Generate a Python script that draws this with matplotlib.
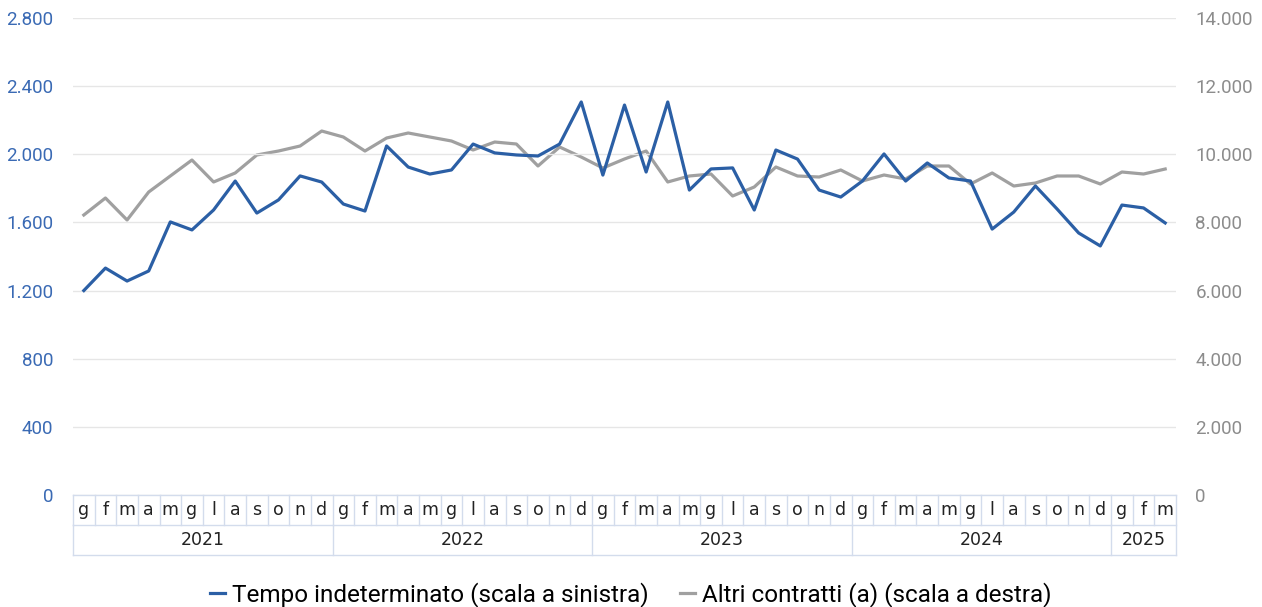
import numpy as np
import matplotlib.pyplot as plt
from matplotlib.ticker import FuncFormatter
import matplotlib.transforms as mtransforms

plt.rcParams['font.family'] = ['Roboto', 'DejaVu Sans']

# ---------------------------------------------------
# dati
mesi = ['g', 'f', 'm', 'a', 'm', 'g', 'l', 'a', 's', 'o', 'n', 'd']
anni = ['2021', '2022', '2023', '2024', '2025']
mesi_per_anno = [12, 12, 12, 12, 3]

tempo_indet = [1200, 1332, 1256, 1315, 1603, 1556, 1673, 1843, 1655, 1732, 1873, 1837,
               1708, 1667, 2049, 1925, 1884, 1908, 2060, 2008, 1996, 1990, 2060, 2307,
               1878, 2289, 1896, 2307, 1790, 1914, 1920, 1673, 2025, 1972, 1790, 1749,
               1843, 2002, 1843, 1949, 1861, 1843, 1561, 1661, 1814, 1679, 1538, 1462,
               1702, 1685, 1597]

altri_contratti = [8218, 8717, 8071, 8893, 9363, 9832, 9187, 9451, 9979, 10096, 10243, 10683,
                   10507, 10096, 10478, 10625, 10507, 10390, 10126, 10360, 10302, 9656, 10214, 9920,
                   9597, 9862, 10096, 9187, 9363, 9421, 8776, 9040, 9627, 9363, 9333, 9539,
                   9216, 9392, 9275, 9656, 9656, 9128, 9451, 9069, 9157, 9363, 9363, 9128,
                   9480, 9421, 9568]

blu = '#2B5FA5'
grigio = '#A0A0A0'
bordo = '#D3DCEC'

def fmt_it(v, pos):
    return f'{int(v):,}'.replace(',', '.')

# ---------------------------------------------------
fig = plt.figure(figsize=(12.62, 6.07), dpi=100)
ax = fig.add_axes([73/1262, 1 - 495/607, (1176 - 73)/1262, (495 - 18)/607])
ax2 = ax.twinx()

x = np.arange(len(tempo_indet))
l1, = ax.plot(x, tempo_indet, color=blu, lw=2.3, zorder=3, label='Tempo indeterminato (scala a sinistra)')
l2, = ax2.plot(x, altri_contratti, color=grigio, lw=2.3, zorder=2, label='Altri contratti (a) (scala a destra)')
ax.set_zorder(ax2.get_zorder() + 1)
ax.patch.set_visible(False)

ax.set_xlim(-0.5, len(x) - 0.5)
ax.set_ylim(0, 2800)
ax2.set_ylim(0, 14000)
ax.set_yticks(np.arange(0, 2801, 400))
ax2.set_yticks(np.arange(0, 14001, 2000))
ax.yaxis.set_major_formatter(FuncFormatter(fmt_it))
ax2.yaxis.set_major_formatter(FuncFormatter(fmt_it))
ax.tick_params(axis='y', length=0, pad=14, labelsize=13.5, labelcolor='#3A6AB4')
ax2.tick_params(axis='y', length=0, pad=14, labelsize=13.5, labelcolor='#8C8C8C')
ax.set_xticks([])
ax.grid(axis='y', color='#E6E6E6', lw=1)
for a in (ax, ax2):
    for s in a.spines.values():
        s.set_visible(False)

# tabella delle categorie sotto l'asse
trans = mtransforms.blended_transform_factory(ax.transData, ax.transAxes)
h = 30 / 477
etichette = [mesi[i % 12] for i in range(len(x))]
for i, m in enumerate(etichette):
    ax.text(i, -h / 2, m, transform=trans, ha='center', va='center', fontsize=12.5,
            family=['DejaVu Sans'], color='#222222')
    ax.plot([i - 0.5, i - 0.5], [0, -h], transform=trans, color=bordo, lw=1, clip_on=False)
ax.plot([len(x) - 0.5] * 2, [0, -2 * h], transform=trans, color=bordo, lw=1, clip_on=False)
ax.plot([-0.5, len(x) - 0.5], [-h, -h], transform=trans, color=bordo, lw=1, clip_on=False)
ax.plot([-0.5, len(x) - 0.5], [-2 * h, -2 * h], transform=trans, color=bordo, lw=1, clip_on=False)
ax.plot([-0.5, len(x) - 0.5], [0, 0], transform=trans, color=bordo, lw=1, clip_on=False)
inizio = 0
for anno, n in zip(anni, mesi_per_anno):
    ax.plot([inizio - 0.5] * 2, [-h, -2 * h], transform=trans, color=bordo, lw=1, clip_on=False)
    ax.text(inizio + (n - 1) / 2, -1.5 * h, anno, transform=trans, ha='center', va='center',
            fontsize=12.5, family=['DejaVu Sans'], color='#222222')
    inizio += n

fig.legend(handles=[l1, l2], loc='center', bbox_to_anchor=(0.5, 1 - 595/607), ncol=2,
           frameon=False, fontsize=17.5, handlelength=0.6, handletextpad=0.3, columnspacing=1.3)

fig.savefig('out.png', dpi=100)
